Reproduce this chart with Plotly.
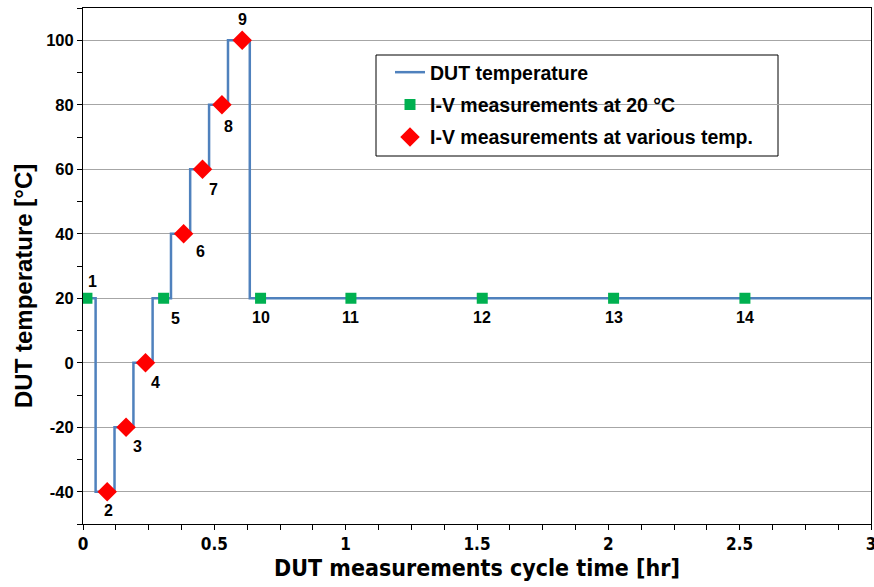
import plotly.graph_objects as go

# Temperature profile of the DUT over one measurement cycle (step changes)
step_time = [0, 0.048, 0.12, 0.192, 0.265, 0.335, 0.408, 0.48, 0.552, 0.635, 3.0]
step_temp = [20, -40, -20, 0, 20, 40, 60, 80, 100, 20, 20]

# I-V measurements taken at 20 °C
ref_time = [0.015, 0.307, 0.676, 1.02, 1.52, 2.02, 2.52]
ref_temp = [20, 20, 20, 20, 20, 20, 20]
ref_ids = ["1", "5", "10", "11", "12", "13", "14"]

# I-V measurements taken at the other temperature plateaus
var_time = [0.092, 0.164, 0.238, 0.383, 0.455, 0.529, 0.606]
var_temp = [-40, -20, 0, 40, 60, 80, 100]
var_ids = ["2", "3", "4", "6", "7", "8", "9"]

x_ticks = [0, 0.5, 1, 1.5, 2, 2.5, 3]
x_tick_labels = ["0", "0.5", "1", "1.5", "2", "2.5", "3"]
y_ticks = [-40, -20, 0, 20, 40, 60, 80, 100]
y_tick_labels = ["-40", "-20", "0", "20", "40", "60", "80", "100"]

# pixel offsets of the measurement number labels relative to their markers
label_shift = {
    "1": (6, 17), "2": (1, -19), "3": (11, -19), "4": (10, -20), "5": (12, -20),
    "6": (17, -18), "7": (11, -20), "8": (7, -22), "9": (0, 21),
    "10": (0, -19), "11": (0, -19), "12": (0, -19), "13": (0, -19), "14": (0, -19),
}

BOLD = "Liberation Sans, Arial, sans-serif"
NARROW = "DejaVu Sans Condensed, Liberation Sans, sans-serif"

fig = go.Figure()
fig.add_trace(go.Scatter(
    x=step_time, y=step_temp, mode="lines", line_shape="hv",
    line=dict(color="#4F81BD", width=2.5),
    name="DUT temperature", legendgroup="a",
))
fig.add_trace(go.Scatter(
    x=ref_time, y=ref_temp, mode="markers",
    marker=dict(symbol="square", size=11, color="#00B050"),
    name="I-V measurements at 20 °C", legendgroup="b",
))
fig.add_trace(go.Scatter(
    x=var_time, y=var_temp, mode="markers",
    marker=dict(symbol="diamond", size=15, color="#FF0000"),
    name="I-V measurements at various temp.", legendgroup="c",
))

annotations = []
for t, v, s in list(zip(ref_time, ref_temp, ref_ids)) + list(zip(var_time, var_temp, var_ids)):
    dx, dy = label_shift[s]
    annotations.append(dict(
        x=t, y=v, text=s, showarrow=False, xshift=dx, yshift=dy,
        font=dict(family=BOLD, size=16, color="black", weight="bold"),
    ))
annotations.append(dict(
    x=0, y=0.5, xref="paper", yref="paper", xanchor="center", yanchor="middle",
    xshift=-60, yshift=-20,
    text="DUT temperature [°C]", textangle=-90, showarrow=False,
    font=dict(family=BOLD, size=24, color="black", weight="bold"),
))
fig.update_layout(annotations=annotations)

# legend frame
fig.add_shape(type="rect", xref="paper", yref="paper",
              x0=(376 - 83) / 788, x1=(778 - 83) / 788,
              y0=(524 - 156) / 516, y1=(524 - 55) / 516,
              line=dict(color="black", width=1), fillcolor="white", layer="below")

fig.update_layout(
    width=874, height=587,
    margin=dict(l=83, r=3, t=8, b=63),
    paper_bgcolor="white", plot_bgcolor="white",
    showlegend=True,
    legend=dict(
        x=(390 - 83) / 788, y=(524 - 53) / 516, xanchor="left", yanchor="top",
        bgcolor="rgba(0,0,0,0)", borderwidth=0, tracegroupgap=4,
        font=dict(family=BOLD, size=19.5, color="black", weight="bold"),
    ),
    xaxis=dict(
        range=[0, 3], tickvals=x_ticks, ticktext=x_tick_labels,
        ticks="outside", ticklen=5, tickcolor="black",
        ticklabeloverflow="allow", automargin=False,
        minor=dict(dtick=0.125, ticks="outside", ticklen=5, tickcolor="black", showgrid=False),
        showgrid=False, zeroline=False,
        showline=True, linecolor="black", linewidth=1, mirror=True,
        tickfont=dict(family=NARROW, size=17, color="black", weight="bold"),
        title=dict(text="DUT measurements cycle time [hr]", standoff=6,
                   font=dict(family=NARROW, size=23, color="black", weight="bold")),
    ),
    yaxis=dict(
        range=[-50, 110], tickvals=y_ticks, ticktext=y_tick_labels,
        ticks="outside", ticklen=5, tickcolor="black", automargin=False,
        minor=dict(dtick=10, ticks="outside", ticklen=5, tickcolor="black", showgrid=False),
        showgrid=True, gridcolor="#A6A6A6", gridwidth=1, zeroline=False,
        showline=True, linecolor="black", linewidth=1, mirror=True,
        tickfont=dict(family=BOLD, size=16.5, color="black", weight="bold"),
    ),
)

fig.write_html("out.html")
